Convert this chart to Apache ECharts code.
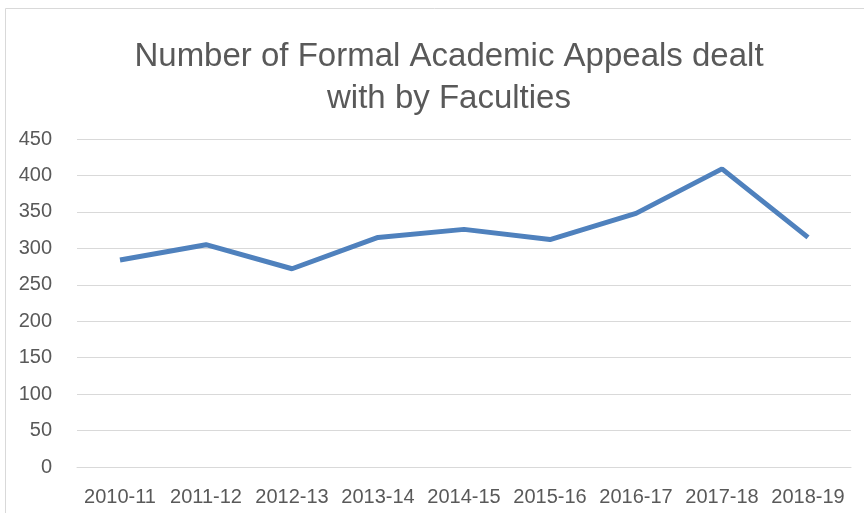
<!doctype html>
<html>
<head>
<meta charset="utf-8">
<script src="https://cdn.jsdelivr.net/npm/echarts@6/dist/echarts.min.js"></script>
<style>
    html, body {margin: 0; padding: 0; background: #fff;}
    #chart {width: 864px; height: 513px;}
</style>
</head>
<body>
<div id="chart"></div>
<script>
    var years = ['2010-11', '2011-12', '2012-13', '2013-14', '2014-15', '2015-16', '2016-17', '2017-18', '2018-19'];
    var appeals = [284, 305, 272, 315, 326, 312, 348, 409, 315];

    var myChart = echarts.init(document.getElementById('chart'));
    var option = {
        animation: false,
        title: {
            text: 'Number of Formal Academic Appeals dealt\nwith by Faculties',
            left: 444,
            top: 31,
            textAlign: 'center',
            textStyle: {
                color: '#595959',
                fontFamily: 'Liberation Sans',
                fontWeight: 'normal',
                fontSize: 33,
                lineHeight: 42
            }
        },
        graphic: [{
            type: 'polyline',
            shape: {points: [[5.5, 513], [5.5, 8.5], [864, 8.5]]},
            style: {stroke: '#d9d9d9', lineWidth: 1, fill: null}
        }],
        grid: {left: 77, right: 13, top: 139, bottom: 46},
        xAxis: {
            type: 'category',
            data: years,
            axisLine: {lineStyle: {color: '#d9d9d9'}},
            axisTick: {show: false},
            axisLabel: {color: '#595959', fontSize: 20, fontFamily: 'Liberation Sans', margin: 20, interval: 0}
        },
        yAxis: {
            type: 'value',
            min: 0,
            max: 450,
            interval: 50,
            axisLine: {show: false},
            axisTick: {show: false},
            splitLine: {lineStyle: {color: '#d9d9d9'}},
            axisLabel: {color: '#595959', fontSize: 20, fontFamily: 'Liberation Sans', margin: 25}
        },
        series: [{
            type: 'line',
            data: appeals,
            showSymbol: false,
            lineStyle: {color: '#4f81bd', width: 5},
            itemStyle: {color: '#4f81bd'}
        }]
    };
    myChart.setOption(option);
</script>
</body>
</html>
